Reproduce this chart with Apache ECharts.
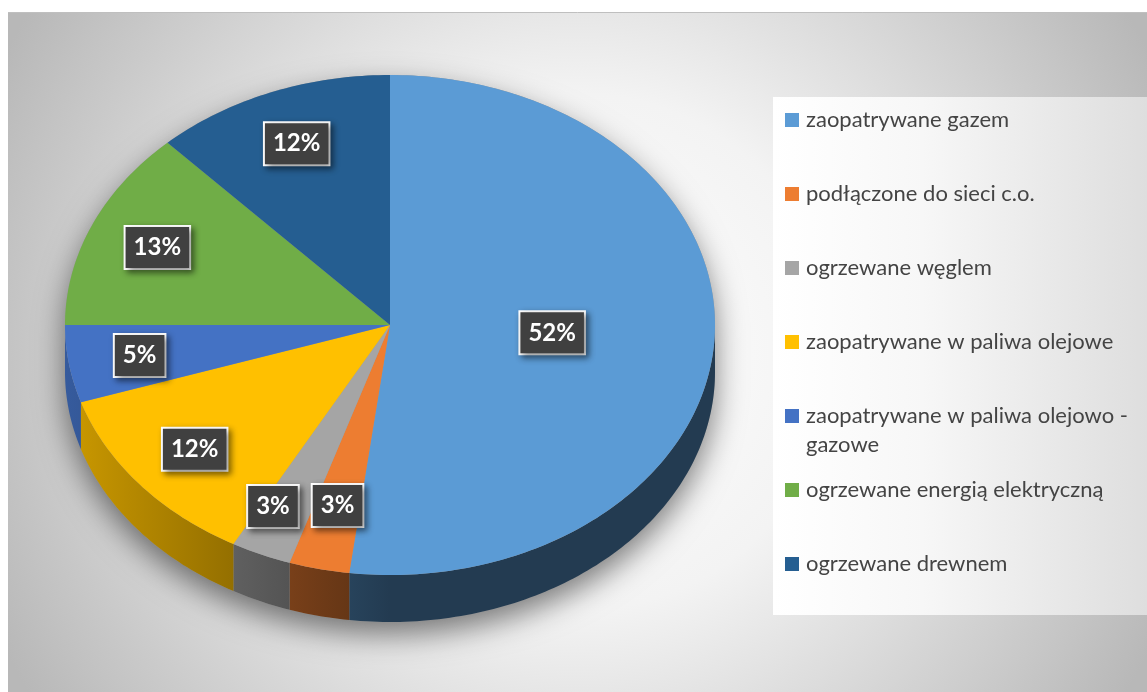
<!DOCTYPE html>
<html>
<head>
<meta charset="UTF-8">
<title>Sposób ogrzewania mieszkań</title>
<script src="https://cdn.jsdelivr.net/npm/echarts@6/dist/echarts.min.js"></script>
<style>
	html, body { margin: 0; padding: 0; background: #fff; }
	#main { width: 1147px; height: 692px; }
</style>
</head>
<body>
<div id="main"></div>
<script>
var categories = ['zaopatrywane gazem', 'podłączone do sieci c.o.', 'ogrzewane węglem', 'zaopatrywane w paliwa olejowe', 'zaopatrywane w paliwa olejowo - gazowe', 'ogrzewane energią elektryczną', 'ogrzewane drewnem'];
var shares = [52, 3, 3, 12, 5, 13, 12];
var colors = ['#5B9BD5', '#ED7D31', '#A5A5A5', '#FFC000', '#4472C4', '#70AD47', '#255E91'];

// geometria pochylonego tortu (elipsa + grubość)
var cx = 390, cy = 325, rx = 325, ry = 250, depth = 47;
var total = shares.reduce(function(a, b) { return a + b; }, 0);

function pt(deg, dy) {
	var a = deg * Math.PI / 180;
	return [cx + rx * Math.sin(a), cy - ry * Math.cos(a) + (dy || 0)];
}
function arc(d0, d1, dy) {
	var pts = [];
	var n = Math.max(2, Math.ceil(Math.abs(d1 - d0)));
	for (var k = 0; k <= n; k++) pts.push(pt(d0 + (d1 - d0) * k / n, dy));
	return pts;
}
function shade(hex, f) {
	var n = parseInt(hex.slice(1), 16);
	return 'rgb(' + Math.round(((n >> 16) & 255) * f) + ',' + Math.round(((n >> 8) & 255) * f) + ',' + Math.round((n & 255) * f) + ')';
}
// bok jaśniejszy z lewej, ciemniejszy z prawej
function sideFill(hex) {
	var stops = [];
	for (var t = 0; t <= 10; t++) {
		var x = cx - rx + t / 10 * 2 * rx;
		var f = Math.max(0.38, 0.8 - (x - (cx - rx)) * 0.0013);
		stops.push({ offset: t / 10, color: shade(hex, f) });
	}
	return { type: 'linear', x: cx - rx, y: 0, x2: cx + rx, y2: 0, global: true, colorStops: stops };
}

// pozycje etykiet: środek wycinka, małe sąsiednie etykiety rozsuwane
var labelPos = (function() {
	var res = [], start = 0;
	for (var i = 0; i < shares.length; i++) {
		var mid = (start + shares[i] / 2) / total * 360;
		res.push({ ang: mid, f: shares[i] > 30 ? 0.5 : 0.78 });
		start += shares[i];
	}
	function xy(p) {
		var a = p.ang * Math.PI / 180;
		return [cx + rx * p.f * Math.sin(a), cy - ry * p.f * Math.cos(a)];
	}
	for (var k = 1; k < res.length; k++) {
		var p = xy(res[k - 1]), q = xy(res[k]);
		if (Math.abs(p[0] - q[0]) < 60 && Math.abs(p[1] - q[1]) < 44) {
			res[k - 1].f -= 0.04;
			res[k].f += 0.03;
			res[k].ang += 3;
		}
	}
	return res.map(xy);
})();

function renderSlice(i) {
	return function(params, api) {
		var start = 0;
		for (var k = 0; k < i; k++) start += shares[k];
		var v = api.value(0);
		var d0 = start / total * 360, d1 = (start + v) / total * 360;
		var children = [];
		var s0 = Math.max(d0, 90), s1 = Math.min(d1, 270);
		if (s1 > s0) {
			children.push({
				type: 'polygon',
				shape: { points: arc(s0, s1, 0).concat(arc(s1, s0, depth)) },
				style: { fill: sideFill(colors[i]) }
			});
		}
		children.push({
			type: 'polygon',
			shape: { points: [[cx, cy]].concat(arc(d0, d1, 0)) },
			style: { fill: colors[i] }
		});
		children.push({
			type: 'text',
			x: labelPos[i][0],
			y: labelPos[i][1],
			z2: 100,
			style: {
				text: Math.round(v / total * 100) + '%',
				font: 'bold 24px Lato',
				fill: '#fff',
				align: 'center',
				verticalAlign: 'middle',
				lineHeight: 29,
				padding: [6, 8, 6, 8],
				backgroundColor: '#404040',
				borderColor: '#fff',
				borderWidth: 2,
				shadowBlur: 6,
				shadowOffsetX: 3,
				shadowOffsetY: 3,
				shadowColor: 'rgba(0,0,0,0.45)'
			}
		});
		return { type: 'group', children: children };
	};
}

var series = [{
	type: 'custom',
	name: 'cien',
	coordinateSystem: 'none',
	silent: true,
	data: [[1]],
	renderItem: function() {
		return {
			type: 'polygon',
			shape: { points: arc(90, 270, depth).concat(arc(270, 450, 0)) },
			style: { fill: '#9a9a9a', shadowBlur: 30, shadowOffsetY: 12, shadowColor: 'rgba(0,0,0,0.5)' }
		};
	}
}];
for (var i = 0; i < categories.length; i++) {
	series.push({
		type: 'custom',
		name: categories[i],
		coordinateSystem: 'none',
		itemStyle: { color: colors[i] },
		data: [[shares[i]]],
		renderItem: renderSlice(i)
	});
}

var legends = [];
for (var j = 0; j < categories.length; j++) {
	var isLong = categories[j].indexOf(' - ') > 0;
	legends.push({
		data: [categories[j]],
		left: 785,
		top: 120 + j * 74 - (isLong ? 43.5 : 14.5),
		padding: 0,
		icon: 'rect',
		itemWidth: 14,
		itemHeight: 14,
		itemGap: 0,
		selectedMode: false,
		formatter: function(n) {
			return n.indexOf(' - ') > 0 ? '\n' + n.replace(' - ', ' -\n') : n;
		},
		textStyle: { fontFamily: 'Lato', fontSize: 22, color: '#444444', lineHeight: 29, padding: [0, 0, 0, 2] }
	});
}

var chart = echarts.init(document.getElementById('main'));
chart.setOption({
	animation: false,
	backgroundColor: '#fff',
	graphic: [{
		type: 'rect',
		shape: { x: 8, y: 12, width: 1139, height: 680 },
		style: {
			fill: { type: 'radial', x: 0.5, y: 0.5, r: 0.95, colorStops: [
				{ offset: 0, color: '#ffffff' }, { offset: 0.4, color: '#f3f3f3' }, { offset: 1, color: '#b8b8b8' }] }
		},
		z: -10, silent: true
	}, {
		type: 'line',
		shape: { x1: 8, y1: 12.5, x2: 1147, y2: 12.5 },
		style: { stroke: '#bfbfbf', lineWidth: 1 },
		z: -9, silent: true
	}, {
		type: 'rect',
		shape: { x: 773, y: 97, width: 374, height: 518 },
		style: {
			fill: { type: 'linear', x: 0, y: 0, x2: 1, y2: 0, colorStops: [
				{ offset: 0, color: '#ffffff' }, { offset: 0.4, color: '#f7f7f7' }, { offset: 1, color: '#dedede' }] }
		},
		z: -8, silent: true
	}],
	legend: legends,
	series: series
});
</script>
</body>
</html>
